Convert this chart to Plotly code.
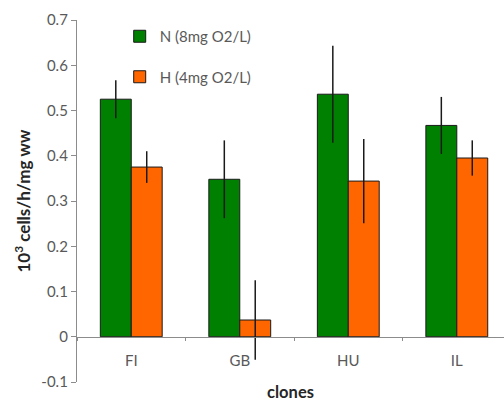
import plotly.graph_objects as go

clones = ["FI", "GB", "HU", "IL"]
normoxia = [0.525, 0.348, 0.536, 0.467]
normoxia_err = [0.042, 0.086, 0.107, 0.063]
hypoxia = [0.375, 0.037, 0.344, 0.395]
hypoxia_err = [0.035, 0.088, 0.093, 0.039]

y_ticks = [-0.1, 0, 0.1, 0.2, 0.3, 0.4, 0.5, 0.6, 0.7]
y_tick_text = ["-0.1", "0", "0.1", "0.2", "0.3", "0.4", "0.5", "0.6", "0.7"]

font_family = "Lato, 'Open Sans', sans-serif"
grey = "#595959"
axis_grey = "#8c8c8c"

fig = go.Figure()
fig.add_trace(go.Bar(
    x=clones, y=normoxia, name="N (8mg O2/L)",
    marker=dict(color="#008000", line=dict(color="#1a1a1a", width=1)),
    error_y=dict(type="data", array=normoxia_err, color="#1a1a1a", thickness=1.5, width=0),
    legendgroup="N",
))
fig.add_trace(go.Bar(
    x=clones, y=hypoxia, name="H (4mg O2/L)",
    marker=dict(color="#ff6600", line=dict(color="#1a1a1a", width=1)),
    error_y=dict(type="data", array=hypoxia_err, color="#1a1a1a", thickness=1.5, width=0),
    legendgroup="H",
))

# position of y = 0 within the plotting area (paper units)
zero_pos = (0 - (-0.1)) / (0.7 - (-0.1))

fig.update_layout(
    width=504, height=402,
    margin=dict(l=77, r=0, t=20, b=20),
    paper_bgcolor="white", plot_bgcolor="white",
    barmode="group", bargap=0.43, bargroupgap=0,
    font=dict(family=font_family, size=15, color=grey),
    legend=dict(
        x=0.10, y=1.0, xanchor="left", yanchor="top",
        bgcolor="rgba(0,0,0,0)", tracegroupgap=18, traceorder="grouped",
        font=dict(size=15, color=grey), itemwidth=30,
    ),
    xaxis=dict(
        range=[-0.5, 3.435], anchor="free", position=zero_pos,
        showline=True, linecolor=axis_grey, linewidth=1.3,
        ticks="outside", tickson="boundaries", ticklen=3, tickcolor=axis_grey,
        showgrid=False, zeroline=False,
        ticklabelstandoff=10,
        title=dict(text="<b>clones</b>", font=dict(size=16.5, color="#262626"), standoff=20),
    ),
    yaxis=dict(
        range=[-0.1, 0.7], tickvals=y_ticks, ticktext=y_tick_text,
        showline=True, linecolor=axis_grey, linewidth=1.3,
        ticks="outside", ticklen=5, tickcolor=axis_grey,
        showgrid=False, zeroline=False,
        title=dict(text="<b>10<sup>3</sup> cells/h/mg ww</b>", font=dict(size=17, color="#262626"), standoff=6),
    ),
)

fig.write_html("out.html")
